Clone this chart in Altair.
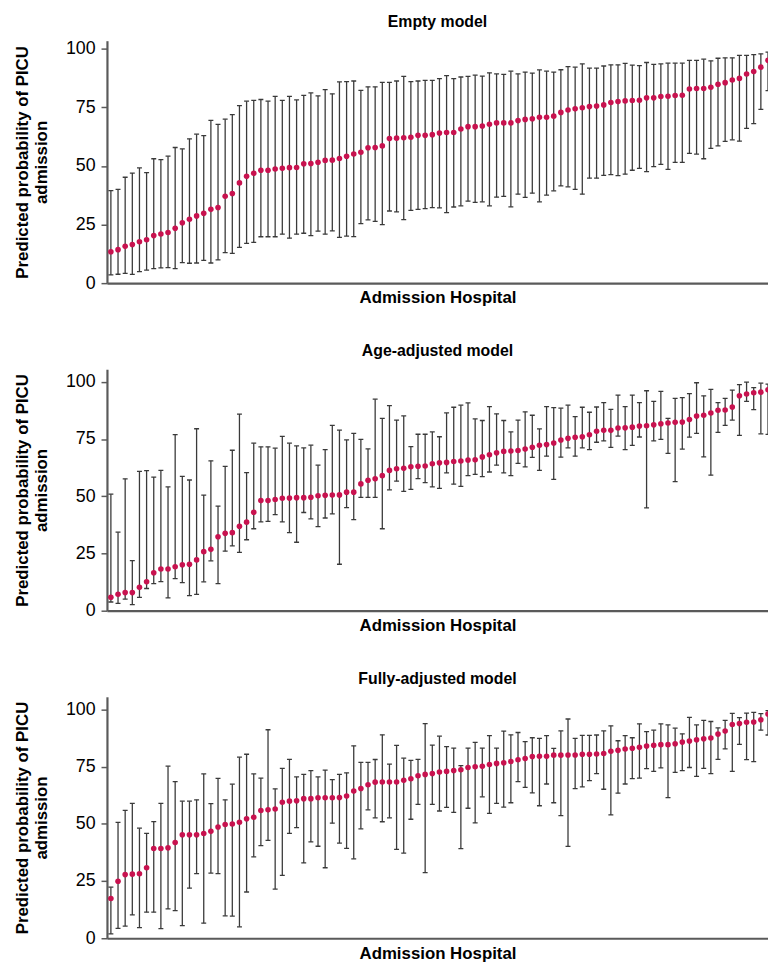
import altair as alt
import pandas as pd

# ---------------- data ----------------
titles = ["Empty model", "Age-adjusted model", "Fully-adjusted model"]

mid1 = [13.4,14.3,15.7,16.5,17.7,18.5,20.3,21.0,21.6,23.4, 25.8,27.3,28.7,29.8,31.5,32.3,37.1,38.3,42.8,45.6,
        46.9,48.2,48.2,48.7,49.0,49.3,49.4,51.0,51.1,51.6, 52.4,52.5,53.2,54.2,55.1,55.9,57.8,57.9,58.6,61.7,
        61.9,62.1,62.3,63.1,63.1,63.4,64.1,64.3,64.3,65.8, 66.8,66.8,67.1,67.8,68.4,68.4,68.4,69.4,69.9,70.2,
        70.8,70.8,71.3,72.9,73.9,74.4,74.9,75.4,75.6,76.1, 77.1,77.5,77.8,78.0,78.1,79.1,79.1,79.7,79.8,80.1,
        80.2,82.9,83.1,83.1,83.6,84.9,85.6,86.7,87.4,89.3, 90.3,92.2,95.1]
hi1 = [39.5,40.0,45.2,47.0,49.2,47.2,53.1,52.7,54.2,57.9, 57.3,61.6,63.6,63.0,69.5,67.8,70.0,71.9,75.8,77.7,
       78.0,78.4,77.7,79.7,78.0,79.7,78.2,80.2,81.2,79.9, 82.6,80.8,85.9,86.0,86.3,82.3,83.8,83.8,85.7,85.7,
       86.3,88.3,86.0,86.3,86.6,86.6,87.3,88.6,87.3,88.0, 88.3,88.8,88.4,89.8,89.3,89.1,90.5,89.3,90.1,89.7,
       91.0,90.5,90.1,91.1,92.4,92.2,93.6,91.8,91.8,92.7, 93.2,93.2,93.8,93.1,92.9,94.2,93.4,93.6,93.9,93.9,
       93.9,95.1,95.1,95.6,94.9,96.0,96.2,96.2,97.2,97.2, 97.6,97.9,98.6]
lo1 = [3.5,3.8,4.2,3.7,4.9,5.6,6.2,6.5,6.6,6.2, 8.8,8.5,8.6,9.7,8.6,9.9,13.0,12.7,15.3,17.0,
       17.4,19.8,19.8,19.8,20.9,19.2,20.9,21.3,20.3,22.2, 20.9,22.3,19.5,20.1,19.9,25.4,27.0,26.4,25.0,30.8,
       30.4,27.1,31.1,31.5,31.8,32.2,32.1,30.1,32.5,33.0, 35.0,34.5,34.7,33.0,36.7,37.0,32.6,38.0,36.6,38.4,
       34.7,37.6,39.4,41.5,41.1,40.0,38.0,44.8,44.8,46.0, 46.3,45.9,46.5,48.2,49.0,47.6,49.7,50.7,48.6,51.6,
       51.6,55.4,55.1,53.1,57.5,58.6,60.5,61.2,60.6,66.1, 68.1,74.2,82.2]

mid2 = [5.9,7.2,7.9,7.9,10.2,12.6,16.6,18.2,18.2,19.2, 20.1,20.3,22.2,25.8,26.8,32.3,33.8,34.1,36.9,38.7,
        43.0,48.1,48.1,48.6,49.1,49.2,49.4,49.4,49.6,50.2, 50.4,50.5,50.6,51.8,51.8,55.4,57.0,57.6,59.0,61.3,
        62.0,62.2,62.9,63.1,63.2,64.2,64.6,64.8,65.2,65.4, 65.8,65.9,67.2,68.1,69.0,69.6,69.8,70.0,70.6,71.4,
        72.3,72.6,73.3,74.6,75.3,75.8,76.0,76.9,78.4,78.8, 78.8,79.8,79.9,80.2,80.7,80.8,81.2,81.7,82.0,82.3,
        82.4,83.5,85.1,85.4,86.4,87.6,87.7,89.0,93.9,94.7, 95.2,95.5,96.5]
hi2 = [50.9,34.3,57.6,21.9,60.9,61.2,58.4,61.3,54.1,76.9, 58.7,57.1,79.5,50.5,65.5,45.7,63.1,70.1,85.9,60.3,
       73.2,71.6,71.6,71.0,76.2,73.2,72.0,71.1,72.3,63.6, 70.4,81.0,78.9,74.6,77.5,74.9,70.7,92.4,84.0,89.6,
       83.3,85.1,71.7,77.1,77.1,78.1,76.0,86.4,88.9,89.8, 90.8,83.8,83.1,89.2,86.0,83.1,78.1,83.3,86.9,85.4,
       79.4,89.2,88.7,88.5,89.8,84.8,88.9,86.7,89.0,90.9, 88.0,94.2,89.2,94.2,90.9,96.1,91.5,95.8,84.0,92.8,
       93.1,94.8,99.6,93.9,96.7,90.9,92.8,96.4,98.8,99.9, 97.5,99.4,99.0]
lo2 = [3.8,3.2,5.1,2.7,5.8,9.7,11.8,12.7,5.6,14.0, 12.3,6.6,7.1,12.6,21.8,11.8,26.0,28.3,25.5,31.0,
       35.8,38.8,39.0,42.0,38.8,34.1,29.9,42.9,40.1,36.7, 40.5,42.3,20.3,45.0,39.8,49.5,49.5,49.5,35.8,52.8,
       56.6,52.1,53.0,57.7,56.0,54.1,53.4,60.2,55.3,54.3, 59.0,59.6,58.6,60.6,63.6,60.2,59.0,64.4,62.8,67.0,
       61.3,67.5,57.4,67.1,71.1,67.5,71.1,70.4,73.6,74.2, 71.4,76.3,70.4,72.2,75.9,44.9,74.2,74.9,68.7,56.4,
       70.6,75.8,77.5,67.2,59.2,77.9,81.0,83.3,76.6,91.5, 87.9,77.3,77.0]

mid3 = [17.4,24.9,27.8,28.0,28.2,30.8,39.2,39.2,39.5,41.8, 45.2,45.2,45.2,45.8,46.7,48.6,49.7,49.9,50.7,52.2,
        52.9,55.8,56.1,56.5,59.4,59.9,60.1,61.0,61.0,61.4, 61.4,61.4,61.5,62.1,64.3,65.4,67.1,68.2,68.3,68.3,
        68.3,69.0,69.7,71.0,71.6,72.0,72.6,72.9,73.3,73.6, 74.6,74.9,75.1,75.9,76.4,76.7,77.2,78.0,78.5,79.4,
        79.5,79.5,80.0,80.0,80.1,80.1,80.4,80.4,80.5,80.7, 81.7,82.1,82.7,83.0,83.4,84.0,84.3,84.6,84.6,85.0,
        85.7,86.2,86.7,87.2,87.5,89.2,90.5,93.4,93.8,94.4, 94.5,95.5,98.0]
hi3 = [22.3,50.6,55.9,58.9,48.1,45.8,51.0,58.9,75.2,68.4, 59.9,59.9,60.5,71.8,58.8,69.9,60.5,67.3,79.1,80.4,
       71.8,70.0,91.1,65.3,74.2,78.2,70.5,71.6,73.2,70.5, 73.5,69.3,71.6,72.3,84.1,76.8,76.8,78.1,88.9,76.1,
       84.3,78.7,77.7,78.2,93.8,84.4,88.3,83.7,83.1,75.4, 83.1,85.6,83.1,88.5,83.1,90.5,88.9,89.9,85.9,87.6,
       87.3,88.5,83.0,90.6,95.8,87.3,88.6,88.6,88.8,90.6, 92.8,86.3,88.5,87.6,93.7,90.3,90.9,93.7,93.2,91.8,
       89.3,96.5,93.2,95.2,94.7,91.9,95.2,98.3,96.4,98.4, 98.7,98.1,99.5]
lo3 = [1.9,4.3,5.3,10.2,4.6,11.4,11.4,4.2,12.8,12.1, 5.5,21.9,28.2,6.6,28.5,28.2,9.8,9.7,5.0,20.2,
       35.6,40.5,42.8,21.5,27.5,45.8,48.3,32.9,42.1,40.2, 30.8,50.3,41.6,39.3,34.7,47.8,56.1,52.6,50.9,52.6,
       38.8,37.2,52.0,58.5,28.7,58.5,55.6,57.2,55.0,39.2, 56.8,50.4,61.8,54.6,58.9,57.3,59.2,68.4,65.9,63.5,
       57.9,67.4,59.2,53.6,40.1,65.4,66.1,68.9,71.9,65.1, 53.9,63.4,67.4,69.7,70.0,74.1,72.9,74.4,61.4,72.5,
       73.2,74.6,70.7,74.2,71.9,78.2,82.7,72.9,84.7,78.0, 77.2,90.9,88.8]

y_ticks = [0, 25, 50, 75, 100]
y_title = ["Predicted probability of PICU", "admission"]
x_title = "Admission Hospital"

# ---------------- styling ----------------
POINT = "#c8124f"
BAR = "#3a3a3a"
AX = "#5a5a5a"
FONT = "Liberation Sans"
W = 668


def panel(title, mid, lo, hi, ytop, height):
    df = pd.DataFrame({"hosp": list(range(1, len(mid) + 1)), "mid": mid, "lo": lo, "hi": hi})
    base = alt.Chart(df)
    x = alt.X("hosp:Q",
              scale=alt.Scale(domain=[0.45, len(mid)], nice=False, zero=False),
              axis=alt.Axis(title=x_title, labels=False, ticks=False, grid=False,
                            domainColor=AX, domainWidth=2.2, titlePadding=7,
                            titleFontSize=17, titleFontWeight="bold", titleColor="black"))
    yscale = alt.Scale(domain=[0, ytop], nice=False)
    yaxis = alt.Axis(title=y_title, values=y_ticks, grid=False, tickSize=6, tickColor=AX,
                     tickWidth=1.5, domainColor=AX, domainWidth=2.2, labelFontSize=18,
                     labelColor="black", labelPadding=6, titlePadding=15,
                     titleFontSize=17, titleFontWeight="bold", titleColor="black")
    rules = base.mark_rule(color=BAR, strokeWidth=1.3, clip=True).encode(
        x=x, y=alt.Y("lo:Q", scale=yscale, axis=yaxis), y2="hi:Q")
    cap_lo = base.mark_tick(orient="horizontal", size=5, thickness=1.3, color=BAR, opacity=1,
                            clip=True).encode(x=x, y=alt.Y("lo:Q", scale=yscale))
    cap_hi = base.mark_tick(orient="horizontal", size=5, thickness=1.3, color=BAR, opacity=1,
                            clip=True).encode(x=x, y=alt.Y("hi:Q", scale=yscale))
    pts = base.mark_circle(size=32, color=POINT, opacity=1, clip=True).encode(
        x=x, y=alt.Y("mid:Q", scale=yscale))
    return alt.layer(rules, cap_lo, cap_hi, pts).properties(
        width=W, height=height,
        view=alt.ViewBackground(stroke="transparent", strokeWidth=0),
        title=alt.TitleParams(title, fontSize=16, fontWeight="bold", anchor="middle",
                              offset=10, color="black", font=FONT))


chart = alt.vconcat(
    panel(titles[0], mid1, lo1, hi1, 103.5, 245),
    panel(titles[1], mid2, lo2, hi2, 105.5, 244),
    panel(titles[2], mid3, lo3, hi3, 105.5, 244),
    spacing=38,
).properties(
    padding={"left": 5, "top": 1, "right": 0, "bottom": 0}
).configure_view(strokeWidth=0, stroke="transparent").configure(font=FONT)

chart.save("out.html", embed_options={"renderer": "svg", "actions": False})
